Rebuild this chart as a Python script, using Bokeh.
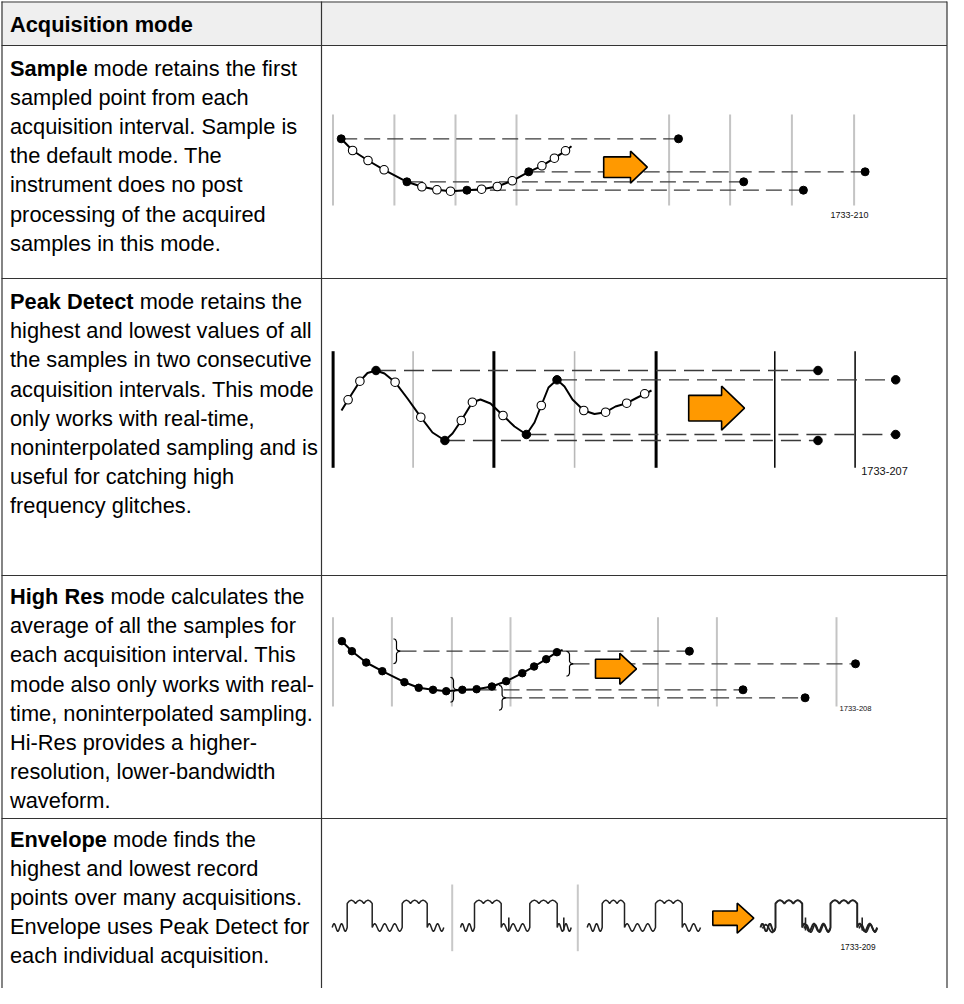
from bokeh.plotting import figure
from bokeh.models import Range1d
from bokeh.core.properties import value
from bokeh.embed import file_html
from bokeh.resources import INLINE

FONT = "Liberation Sans"

# ---------------- table text ----------------
HEADER_TEXT = "Acquisition mode"
MODE_NAMES = ["Sample", "Peak Detect", "High Res", "Envelope"]
MODE_LINES = [
    ["mode retains the first", "sampled point from each", "acquisition interval. Sample is",
     "the default mode. The", "instrument does no post", "processing of the acquired",
     "samples in this mode."],
    ["mode retains the", "highest and lowest values of all", "the samples in two consecutive",
     "acquisition intervals. This mode", "only works with real-time,",
     "noninterpolated sampling and is", "useful for catching high", "frequency glitches."],
    ["mode calculates the", "average of all the samples for", "each acquisition interval. This",
     "mode also only works with real-", "time, noninterpolated sampling.",
     "Hi-Res provides a higher-", "resolution, lower-bandwidth", "waveform."],
    ["mode finds the", "highest and lowest record", "points over many acquisitions.",
     "Envelope uses Peak Detect for", "each individual acquisition."],
]
HEADER_BASELINE = 24
ROW_LINES_Y = [45, 278, 575, 818]
ROW_BASELINES = [67.5, 301, 596, 838.5]
LINE_STEP = 29.2
COL_SPLIT = 321
TEXT_X = 9.5
FONT_PX = 21.8

# Arial/Liberation Sans Bold advance widths (1/1000 em) for the bold words
BOLD_W = {"S": 667, "a": 556, "m": 889, "p": 611, "l": 278, "e": 556, "P": 667, "k": 556,
          " ": 278, "D": 722, "t": 333, "c": 556, "H": 722, "i": 278, "g": 611, "h": 611,
          "R": 722, "s": 556, "E": 667, "n": 611, "v": 556, "o": 611}

# ---------------- Sample diagram ----------------
SAMPLE_GRID_X = [332.5, 393.9, 455, 516, 668.6, 729.6, 791.4, 853.6]
SAMPLE_GRID_Y = [114, 205]
SAMPLE_CURVE_X = [340.7, 352.1, 367.5, 383.6, 406.4, 421.4, 436.4, 450, 466.4, 481.1,
                  496.8, 511.8, 528.2, 541.4, 553.9, 565, 571]
SAMPLE_CURVE_Y = [138.3, 150, 160, 169.3, 181.3, 186.3, 189.3, 190.7, 189.7, 188.7,
                  186, 180.3, 171.3, 165.3, 157.7, 150.3, 145.7]
SAMPLE_KEPT = [0, 4, 8, 12]
SAMPLE_OUT_X = [678, 743.2, 802.9, 864.6]

# ---------------- Peak Detect diagram ----------------
PEAK_GRID_X = [332.6, 412.6, 493.4, 574.1, 655.6, 774.3, 854.6]
PEAK_GRID_KIND = ["thick", "gray", "thick", "gray", "thick", "thin", "thin"]
PEAK_GRID_Y = [350.7, 467.3]
PEAK_CURVE_X = [341, 347.6, 359.4, 367, 375.5, 384, 394.6, 407, 420.3, 432, 444.4, 452,
                460.8, 471.9, 480, 490, 502.5, 514, 525.9, 534, 540.8, 548, 556.5, 564,
                572, 583.3, 594, 605.1, 615, 626.2, 636, 644.2, 651]
PEAK_CURVE_Y = [410, 399.3, 380.7, 372.5, 370, 373, 381.7, 398, 416.7, 432, 440, 433,
                420, 401.7, 399, 403, 415, 426, 434, 422, 405, 387, 379.3, 386,
                399, 410, 413.5, 411.7, 406, 402.7, 397.5, 393.3, 390]
PEAK_OPEN = [1, 2, 6, 8, 12, 13, 16, 20, 25, 27, 29, 31]
PEAK_KEPT = [4, 10, 22, 18]
PEAK_OUT_X = [817.5, 817.5, 895.2, 895.2]

# ---------------- High Res diagram ----------------
HIRES_GRID_X = [332.5, 391.4, 451.4, 510, 657.5, 716.4, 836]
HIRES_GRID_Y = [616.7, 706]
HIRES_CURVE_X = [341.4, 351.4, 365.7, 381.8, 403.9, 418.2, 432.5, 445.7, 461.8, 476.1,
                 491.4, 505.7, 521.8, 533.6, 545.7, 556.4, 562.1]
HIRES_CURVE_Y = [640.7, 650.7, 662, 670.7, 681.7, 687.3, 689.3, 690.7, 689.3, 688.7,
                 686, 680.7, 672.7, 666, 658.7, 651.7, 649.3]
HIRES_AVG_Y = [650.7, 689.3, 697.3, 663.3]
HIRES_BRACE_X = [393, 450, 498.6, 566]
HIRES_OUT_X = [688.9, 742.5, 804.6, 855]

# ---------------- Envelope diagram ----------------
ENV_DIVIDER_X = [451.7, 577.3]
ENV_DIVIDER_Y = [884, 950.7]
ENV_START = [331.7, 460, 586.7, 760]
ENV_RISE1 = [346.7, 474, 601.7, 775]
ENV_FALL1 = [371.7, 500.7, 624, 801.7]
ENV_RISE2 = [401.7, 529.3, 655, 830]
ENV_FALL2 = [426.7, 556.7, 681.7, 856.7]
ENV_END = [443.3, 570.7, 700, 876.7]
ENV_HIGH = 903
ENV_LOW = 927
ENV_SPIKE_X = [508.3, 563.3, 805, 861.7]

# ---------------- arrows and figure ids ----------------
ARROW_X0 = [603.2, 688.2, 595, 712.3]
ARROW_X1 = [630, 721.1, 619.3, 736.7]
ARROW_TIP = [646.8, 744, 636, 753.3]
ARROW_YC = [166.7, 407.7, 668.3, 917.7]
ARROW_BODY_H = [20.6, 25.7, 19, 14.3]
ARROW_HEAD_H = [32, 44, 31, 30]
FIG_IDS = ["1733-210", "1733-207", "1733-208", "1733-209"]
FIG_ID_X = [849, 884, 855, 857.5]
FIG_ID_Y = [214.3, 470, 708.3, 946.7]
FIG_ID_SIZE = ["9px", "11px", "7.6px", "8.3px"]

# =========================================================
W, H = 948, 988
p = figure(width=W, height=H, x_range=Range1d(0, W), y_range=Range1d(H, 0),
           output_backend="svg", toolbar_location=None, min_border=0)
p.axis.visible = False
p.grid.visible = False
p.outline_line_color = None
p.background_fill_color = "white"
p.border_fill_color = "white"

# ---- table ----
RIGHT = W - 1.5
p.quad(left=[1], right=[RIGHT], top=[1], bottom=[ROW_LINES_Y[0]], fill_color="#efefef",
       line_color=None)
p.segment(x0=[1], y0=[1.5], x1=[RIGHT], y1=[1.5], line_color="#777777", line_width=1.3)
p.segment(x0=[1] * 4, y0=ROW_LINES_Y, x1=[RIGHT] * 4, y1=ROW_LINES_Y,
          line_color="#333333", line_width=1.2)
p.segment(x0=[1.5, COL_SPLIT, RIGHT], y0=[1, 1, 1], x1=[1.5, COL_SPLIT, RIGHT],
          y1=[H, H, H], line_color="#333333", line_width=1.2)

p.text(x=[TEXT_X], y=[HEADER_BASELINE], text=[HEADER_TEXT], text_font=value(FONT),
       text_font_size=f"{FONT_PX}px", text_font_style="bold", text_baseline="alphabetic",
       text_color="#000000")

bx, by, bt, rx, ry, rt = [], [], [], [], [], []
for name, lines, base in zip(MODE_NAMES, MODE_LINES, ROW_BASELINES):
    bx.append(TEXT_X); by.append(base); bt.append(name)
    wbold = sum(BOLD_W[c] for c in name) * FONT_PX / 1000.0
    for k, line in enumerate(lines):
        rx.append(TEXT_X + (wbold + 278 * FONT_PX / 1000.0 if k == 0 else 0))
        ry.append(base + k * LINE_STEP)
        rt.append(line)
p.text(x=bx, y=by, text=bt, text_font=value(FONT), text_font_size=f"{FONT_PX}px",
       text_font_style="bold", text_baseline="alphabetic", text_color="#000000")
p.text(x=rx, y=ry, text=rt, text_font=value(FONT), text_font_size=f"{FONT_PX}px",
       text_baseline="alphabetic", text_color="#000000")

DASH_COLOR = "#3a3a3a"

# ---- Sample ----
p.segment(x0=SAMPLE_GRID_X, y0=[SAMPLE_GRID_Y[0]] * 8, x1=SAMPLE_GRID_X,
          y1=[SAMPLE_GRID_Y[1]] * 8, line_color="#c4c4c4", line_width=2)
for i, ox in zip(SAMPLE_KEPT, SAMPLE_OUT_X):
    p.line([SAMPLE_CURVE_X[i], ox], [SAMPLE_CURVE_Y[i]] * 2, line_color=DASH_COLOR,
           line_width=1.3, line_dash="16 7")
p.line(SAMPLE_CURVE_X, SAMPLE_CURVE_Y, line_color="black", line_width=2)
s_open = [i for i in range(len(SAMPLE_CURVE_X) - 1) if i not in SAMPLE_KEPT]
p.scatter([SAMPLE_CURVE_X[i] for i in s_open], [SAMPLE_CURVE_Y[i] for i in s_open],
          size=8.5, fill_color="white", line_color="black", line_width=1.1)
p.scatter([SAMPLE_CURVE_X[i] for i in SAMPLE_KEPT] + SAMPLE_OUT_X,
          [SAMPLE_CURVE_Y[i] for i in SAMPLE_KEPT] * 2, size=8, fill_color="black",
          line_color="black")

# ---- Peak Detect ----
for gx, kind in zip(PEAK_GRID_X, PEAK_GRID_KIND):
    col, w = {"thick": ("black", 3), "gray": ("#b8b8b8", 1.6), "thin": ("black", 1.5)}[kind]
    p.segment(x0=[gx], y0=[PEAK_GRID_Y[0]], x1=[gx], y1=[PEAK_GRID_Y[1]], line_color=col,
              line_width=w)
for i, ox in zip(PEAK_KEPT, PEAK_OUT_X):
    p.line([PEAK_CURVE_X[i], ox], [PEAK_CURVE_Y[i]] * 2, line_color=DASH_COLOR,
           line_width=1.3, line_dash="20 8")
p.line(PEAK_CURVE_X, PEAK_CURVE_Y, line_color="black", line_width=2)
p.scatter([PEAK_CURVE_X[i] for i in PEAK_OPEN], [PEAK_CURVE_Y[i] for i in PEAK_OPEN],
          size=8.5, fill_color="white", line_color="black", line_width=1.1)
p.scatter([PEAK_CURVE_X[i] for i in PEAK_KEPT] + PEAK_OUT_X,
          [PEAK_CURVE_Y[i] for i in PEAK_KEPT] * 2, size=8.5, fill_color="black",
          line_color="black")

# ---- High Res ----
p.segment(x0=HIRES_GRID_X, y0=[HIRES_GRID_Y[0]] * 7, x1=HIRES_GRID_X,
          y1=[HIRES_GRID_Y[1]] * 7, line_color="#c4c4c4", line_width=2)
for bxl, ay, ox in zip(HIRES_BRACE_X, HIRES_AVG_Y, HIRES_OUT_X):
    p.line([bxl + 7, ox], [ay, ay], line_color=DASH_COLOR, line_width=1.3, line_dash="16 7")
p.line(HIRES_CURVE_X, HIRES_CURVE_Y, line_color="black", line_width=2)
p.scatter(HIRES_CURVE_X[:-1], HIRES_CURVE_Y[:-1], size=7.5, fill_color="black",
          line_color="black")
bxs, bys = [], []
for bxl, ay in zip(HIRES_BRACE_X, HIRES_AVG_Y):
    h = 12.5
    bxs.append([bxl, bxl + 2, bxl + 3, bxl + 3, bxl + 4, bxl + 7, bxl + 4, bxl + 3, bxl + 3,
                bxl + 2, bxl])
    bys.append([ay - h, ay - h + 0.8, ay - h + 3, ay - 2.5, ay - 0.8, ay, ay + 0.8, ay + 2.5,
                ay + h - 3, ay + h - 0.8, ay + h])
p.multi_line(bxs, bys, line_color="black", line_width=1.2)
p.scatter(HIRES_OUT_X, HIRES_AVG_Y, size=8, fill_color="black", line_color="black")

# ---- Envelope ----
p.segment(x0=ENV_DIVIDER_X, y0=[ENV_DIVIDER_Y[0]] * 2, x1=ENV_DIVIDER_X,
          y1=[ENV_DIVIDER_Y[1]] * 2, line_color="#c8c8c8", line_width=2)
LOW_SHAPE = [0, -2.8, -4, -2.8, 0, 2.8, 4, 2.8]
HIGH_SHAPE = [0, -2.4, -3.4, -2.4]


def wiggle(xa, xb, base, shape, period, sign=1):
    n = max(1, int(round((xb - xa) / period)))
    m = n * len(shape)
    step = (xb - xa) / m
    xs = [xa + i * step for i in range(m)] + [xb]
    ys = [base + sign * shape[i % len(shape)] for i in range(m)] + [base]
    return xs, ys


for k in range(4):
    xs, ys = [], []
    segs = [(ENV_START[k], ENV_RISE1[k], ENV_LOW, LOW_SHAPE, 9),
            (ENV_RISE1[k], ENV_FALL1[k], ENV_HIGH, HIGH_SHAPE, 8),
            (ENV_FALL1[k], ENV_RISE2[k], ENV_LOW, LOW_SHAPE, 9),
            (ENV_RISE2[k], ENV_FALL2[k], ENV_HIGH, HIGH_SHAPE, 8),
            (ENV_FALL2[k], ENV_END[k], ENV_LOW, LOW_SHAPE, 9)]
    for xa, xb, base, shape, per in segs:
        sx, sy = wiggle(xa, xb, base, shape, per)
        xs += sx; ys += sy
    lw = 2.0 if k == 3 else 1.5
    p.line(xs, ys, line_color="#222222", line_width=lw)
    if k == 3:
        for xa, xb in [(ENV_START[k], ENV_RISE1[k]), (ENV_FALL1[k], ENV_RISE2[k]),
                       (ENV_FALL2[k], ENV_END[k])]:
            sx, sy = wiggle(xa + 2, xb, ENV_LOW + 1, LOW_SHAPE, 9)
            p.line(sx, sy, line_color="#222222", line_width=1.6)
p.segment(x0=ENV_SPIKE_X, y0=[ENV_LOW + 3] * 4, x1=ENV_SPIKE_X, y1=[ENV_LOW - 10] * 4,
          line_color="#222222", line_width=1.6)

# ---- arrows ----
axs, ays = [], []
for x0, x1, xt, yc, bh, hh in zip(ARROW_X0, ARROW_X1, ARROW_TIP, ARROW_YC, ARROW_BODY_H,
                                  ARROW_HEAD_H):
    axs.append([x0, x1, x1, xt, x1, x1, x0])
    ays.append([yc - bh / 2, yc - bh / 2, yc - hh / 2, yc, yc + hh / 2, yc + bh / 2,
                yc + bh / 2])
p.patches(axs, ays, fill_color="#ff9900", line_color="black", line_width=1.6)

# ---- figure ids ----
for fx, fy, ft, fs in zip(FIG_ID_X, FIG_ID_Y, FIG_IDS, FIG_ID_SIZE):
    p.text(x=[fx], y=[fy], text=[ft], text_font=value(FONT), text_font_size=fs,
           text_align="center", text_baseline="middle", text_color="#111111")

open("out.html", "w").write(file_html(p, INLINE))
